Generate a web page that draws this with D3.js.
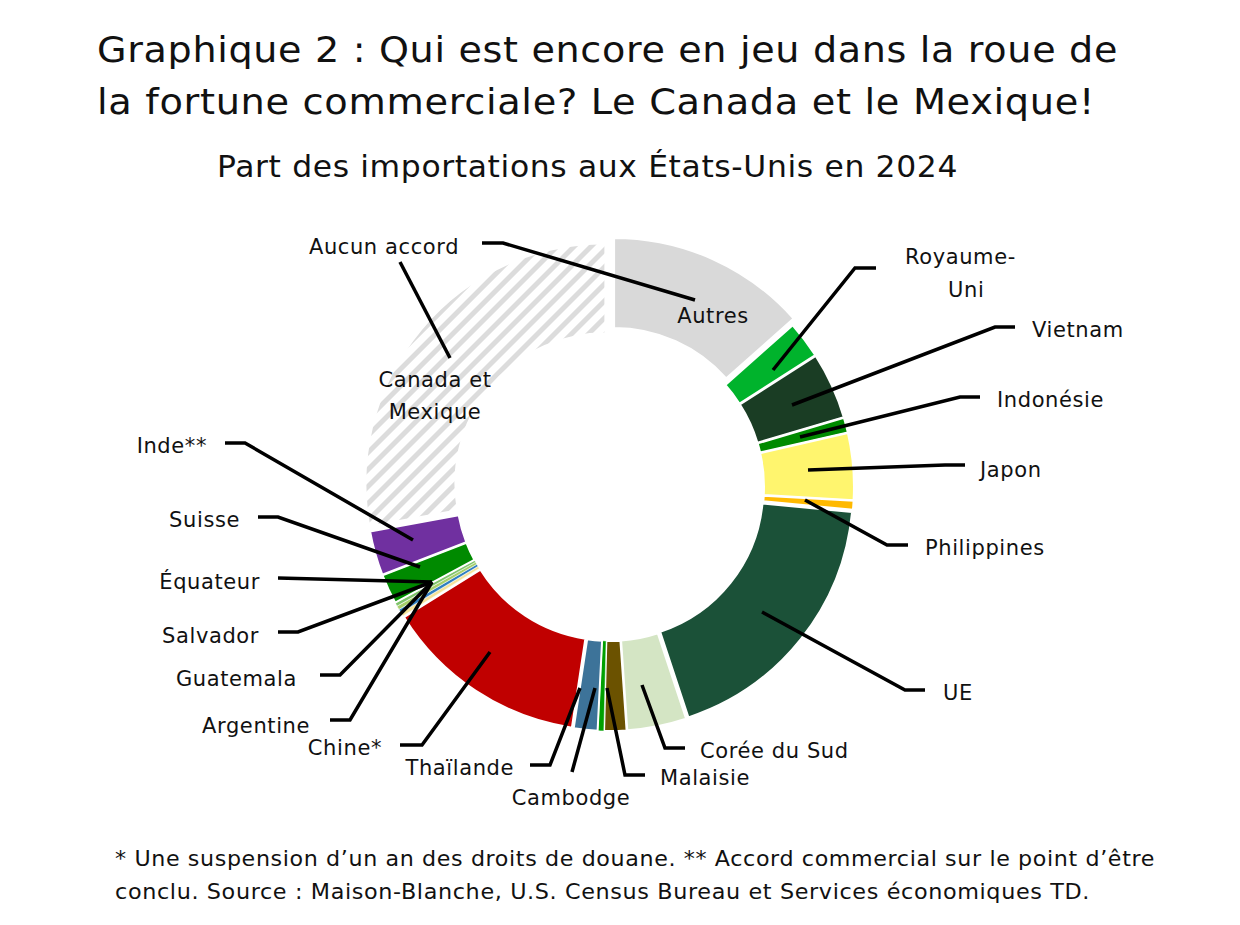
<!DOCTYPE html>
<html><head><meta charset="utf-8">
<script src="https://cdn.jsdelivr.net/npm/d3@7"></script>
<style>body{margin:0;background:#fff}text{font-family:"DejaVu Sans",sans-serif;fill:#111;letter-spacing:0.6px}</style>
</head><body>
<script>
// Données (part des importations, %)
const pays = ["Autres","Royaume-Uni","Vietnam","Indonésie","Japon","Philippines","UE","Corée du Sud","Malaisie","Cambodge","Thaïlande","Chine*","Argentine","Guatemala","Salvador","Équateur","Suisse","Inde**","Canada et Mexique"];
const parts = [13.5,2.5,4.5,1.0,4.5,0.6,18.5,4.0,1.5,0.4,1.6,13.8,0.25,0.25,0.25,0.25,2.0,3.0,28];
const couleurs = ["#d9d9d9","#00b32c","#1a3d24","#008a00","#fff56e","#ffb900","#1b5138","#d4e5c4","#6b5200","#00a000","#3d7399","#c00000","#f5e39a","#2f7fc1","#a6cf6a","#7fc36b","#008a00","#7030a0","url(#hachures)"];
const eclat = [10,4,4,4,4,4,4,4,4,4,4,4,4,4,4,4,4,4,6];

// Étiquettes : trait (départ -> coude -> fin) et texte
const etiquettes = [
  {n:"Royaume-Uni", l:[[773,370],[855,268],[876,268]], t:[["Royaume-",905,264],["Uni",948,297]], a:"start"},
  {n:"Vietnam", l:[[792,405],[995,327],[1015,327]], t:[["Vietnam",1032,337]], a:"start"},
  {n:"Indonésie", l:[[800,437],[960,397],[980,397]], t:[["Indonésie",997,407]], a:"start"},
  {n:"Japon", l:[[808,470],[945,465],[965,465]], t:[["Japon",980,477]], a:"start"},
  {n:"Philippines", l:[[805,500],[887,545],[908,545]], t:[["Philippines",925,555]], a:"start"},
  {n:"UE", l:[[762,612],[905,690],[925,690]], t:[["UE",943,700]], a:"start"},
  {n:"Corée du Sud", l:[[642,685],[665,748],[685,748]], t:[["Corée du Sud",700,758]], a:"start"},
  {n:"Malaisie", l:[[607,688],[625,775],[645,775]], t:[["Malaisie",660,785]], a:"start"},
  {n:"Cambodge", l:[[595,688],[572,772]], t:[["Cambodge",571,805]], a:"middle"},
  {n:"Thaïlande", l:[[580,688],[550,765],[530,765]], t:[["Thaïlande",514,775]], a:"end"},
  {n:"Chine*", l:[[490,652],[422,745],[400,745]], t:[["Chine*",382,755]], a:"end"},
  {n:"Argentine", l:[[432,582],[350,720],[330,720]], t:[["Argentine",310,733]], a:"end"},
  {n:"Guatemala", l:[[432,582],[340,675],[320,675]], t:[["Guatemala",297,686]], a:"end"},
  {n:"Salvador", l:[[432,582],[298,632],[278,632]], t:[["Salvador",259,643]], a:"end"},
  {n:"Équateur", l:[[432,582],[278,578]], t:[["Équateur",260,589]], a:"end"},
  {n:"Suisse", l:[[420,567],[278,517],[258,517]], t:[["Suisse",240,527]], a:"end"},
  {n:"Inde**", l:[[413,540],[245,443],[225,443]], t:[["Inde**",207,453]], a:"end"},
  {n:"Autres", l:[[695,300],[503,243],[482,243]], t:[["Autres",713,323],["Aucun accord",384,254]], a:"middle"},
  {n:"Canada et Mexique", l:[[450,358],[400,262]], t:[["Canada et",435,387],["Mexique",435,419]], a:"middle"}
];

const svg = d3.select("body").append("svg").attr("width",1240).attr("height",925);

const defs = svg.append("defs");
const pat = defs.append("pattern").attr("id","hachures").attr("patternUnits","userSpaceOnUse")
  .attr("width",12).attr("height",12).attr("patternTransform","rotate(45)");
pat.append("rect").attr("width",5).attr("height",12).attr("fill","#dcdcdc");

const ligne = (x,y,size,txt,len,anchor) => {
  const t = svg.append("text").attr("x",x).attr("y",y).attr("font-size",size).text(txt);
  if (len) t.attr("textLength",len).attr("lengthAdjust","spacingAndGlyphs");
  if (anchor) t.attr("text-anchor",anchor);
};
ligne(97,62,35,"Graphique 2 : Qui est encore en jeu dans la roue de",1021);
ligne(97,114,35,"la fortune commerciale? Le Canada et le Mexique!",998);
ligne(217,177,30,"Part des importations aux États-Unis en 2024",741);

const cx = 610, cy = 487;
const pie = d3.pie().sort(null).value(d => d);
const arc = d3.arc().innerRadius(150).outerRadius(240);
const arcs = pie(parts);

const g = svg.append("g").attr("transform",`translate(${cx},${cy})`);
g.selectAll("path").data(arcs).enter().append("path")
  .attr("d", arc)
  .attr("fill", (d,i) => couleurs[i])
  .attr("stroke","#fff").attr("stroke-width",(d,i) => parts[i] < 0.5 ? 0.5 : 2)
  .attr("transform",(d,i) => {
    const m = (d.startAngle + d.endAngle)/2;
    return `translate(${Math.sin(m)*eclat[i]},${-Math.cos(m)*eclat[i]})`;
  });

const line = d3.line();
etiquettes.forEach(e => {
  svg.append("path").attr("d", line(e.l)).attr("fill","none").attr("stroke","#000").attr("stroke-width",3.5);
  e.t.forEach(t => svg.append("text").attr("x",t[1]).attr("y",t[2]).attr("font-size",21)
    .attr("text-anchor", e.a).text(t[0]));
});

ligne(115,866,21,"* Une suspension d’un an des droits de douane. ** Accord commercial sur le point d’être",1040);
ligne(115,899,21,"conclu. Source : Maison-Blanche, U.S. Census Bureau et Services économiques TD.",975);
</script>
</body></html>
